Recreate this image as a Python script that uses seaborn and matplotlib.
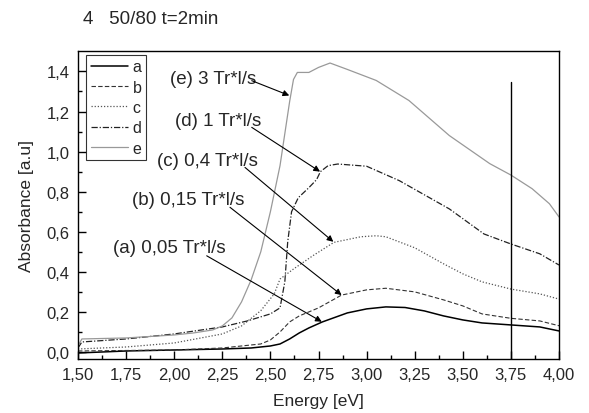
import numpy as np
import pandas as pd
import matplotlib
matplotlib.use("Agg")
import matplotlib.pyplot as plt
import seaborn as sns

# ---- data ----
a_x = [1.50, 1.75, 2.00, 2.25, 2.40, 2.50, 2.55, 2.60, 2.65, 2.70, 2.77, 2.90, 3.00, 3.10, 3.20, 3.30, 3.40, 3.50, 3.60, 3.75, 3.90, 4.00]
a_y = [-0.005, 0.005, 0.010, 0.015, 0.020, 0.030, 0.040, 0.065, 0.095, 0.120, 0.150, 0.195, 0.215, 0.225, 0.222, 0.205, 0.180, 0.160, 0.145, 0.135, 0.125, 0.105]

b_x = [1.50, 2.00, 2.25, 2.45, 2.50, 2.55, 2.60, 2.65, 2.75, 2.87, 3.00, 3.10, 3.25, 3.40, 3.50, 3.60, 3.75, 3.90, 4.00]
b_y = [0.005, 0.010, 0.020, 0.040, 0.060, 0.100, 0.150, 0.180, 0.220, 0.284, 0.310, 0.318, 0.300, 0.260, 0.230, 0.190, 0.168, 0.155, 0.131]

c_x = [1.50, 1.75, 2.00, 2.25, 2.35, 2.45, 2.52, 2.55, 2.62, 2.72, 2.83, 2.97, 3.05, 3.10, 3.25, 3.40, 3.50, 3.60, 3.75, 3.90, 4.00]
c_y = [0.015, 0.025, 0.045, 0.090, 0.130, 0.206, 0.290, 0.364, 0.414, 0.480, 0.547, 0.575, 0.580, 0.575, 0.520, 0.440, 0.390, 0.350, 0.314, 0.290, 0.264]

d_x = [1.50, 1.52, 1.75, 2.00, 2.25, 2.38, 2.50, 2.55, 2.575, 2.59, 2.61, 2.645, 2.70, 2.74, 2.76, 2.80, 2.85, 3.00, 3.17, 3.43, 3.61, 3.75, 3.90, 4.00]
d_y = [0.020, 0.050, 0.065, 0.090, 0.125, 0.155, 0.190, 0.220, 0.350, 0.550, 0.700, 0.770, 0.820, 0.860, 0.900, 0.930, 0.938, 0.927, 0.855, 0.714, 0.589, 0.539, 0.490, 0.434]

e_x = [1.50, 1.52, 1.75, 2.00, 2.10, 2.20, 2.25, 2.30, 2.35, 2.40, 2.45, 2.50, 2.55, 2.60, 2.62, 2.64, 2.70, 2.75, 2.81, 2.90, 3.05, 3.22, 3.43, 3.64, 3.75, 3.86, 3.95, 4.00]
e_y = [0.030, 0.065, 0.070, 0.085, 0.095, 0.110, 0.130, 0.170, 0.250, 0.360, 0.500, 0.700, 0.930, 1.250, 1.360, 1.395, 1.395, 1.420, 1.442, 1.410, 1.355, 1.255, 1.080, 0.940, 0.883, 0.815, 0.740, 0.674]

series_names = ["a", "b", "c", "d", "e"]
annot_texts = ["(a) 0,05 Tr*l/s", "(b) 0,15 Tr*l/s", "(c) 0,4 Tr*l/s", "(d) 1 Tr*l/s", "(e) 3 Tr*l/s"]
annot_text_xy = [(1.684, 0.522), (1.779, 0.763), (1.909, 0.955), (2.004, 1.154), (1.978, 1.366)]
annot_tail_xy = [(2.169, 0.480), (2.290, 0.722), (2.368, 0.921), (2.403, 1.121), (2.403, 1.354)]
annot_tip_xy = [(2.767, 0.151), (2.870, 0.284), (2.827, 0.550), (2.758, 0.900), (2.598, 1.280)]

x_ticks = [1.50, 1.75, 2.00, 2.25, 2.50, 2.75, 3.00, 3.25, 3.50, 3.75, 4.00]
x_ticklabels = ["1,50", "1,75", "2,00", "2,25", "2,50", "2,75", "3,00", "3,25", "3,50", "3,75", "4,00"]
y_ticks = [0.0, 0.2, 0.4, 0.6, 0.8, 1.0, 1.2, 1.4]
y_ticklabels = ["0,0", "0,2", "0,4", "0,6", "0,8", "1,0", "1,2", "1,4"]
vline_x = 3.75
vline_top = 1.347

title_text = "4   50/80 t=2min"
x_label = "Energy [eV]"
y_label = "Absorbance [a.u]"

# ---- styling ----
sns.set_theme(style="white")
plt.rcParams["font.family"] = ["Liberation Sans", "DejaVu Sans"]

fig = plt.figure(figsize=(5.89, 4.14), dpi=100)
ax = fig.add_axes([78 / 589, 1 - 360 / 414, (559 - 78) / 589, (360 - 52) / 414])

styles = {
    "a": dict(color="#000000", linestyle="-", linewidth=1.1),
    "b": dict(color="#333333", linestyle=(0, (4, 2)), linewidth=0.8),
    "c": dict(color="#555555", linestyle=(0, (1, 1.5)), linewidth=0.9),
    "d": dict(color="#222222", linestyle=(0, (5, 1.5, 1, 1.5)), linewidth=0.9),
    "e": dict(color="#999999", linestyle="-", linewidth=0.9),
}
data = {"a": (a_x, a_y), "b": (b_x, b_y), "c": (c_x, c_y), "d": (d_x, d_y), "e": (e_x, e_y)}

for name in series_names:
    xs, ys = data[name]
    df = pd.DataFrame({"x": xs, "y": ys})
    sns.lineplot(data=df, x="x", y="y", ax=ax, label=name, sort=False, **styles[name])

ax.plot([vline_x, vline_x], [-0.035, vline_top], color="black", linewidth=1.0)

for txt, txy, tail, tip in zip(annot_texts, annot_text_xy, annot_tail_xy, annot_tip_xy):
    ax.text(txy[0], txy[1], txt, fontsize=13.5, va="center", ha="left")
    ax.annotate("", xy=tip, xytext=tail,
                arrowprops=dict(arrowstyle="-|>", color="black", lw=0.8, mutation_scale=9,
                                shrinkA=0, shrinkB=0))

ax.set_xlim(1.5, 4.0)
ax.set_ylim(-0.035, 1.502)
ax.set_xticks(x_ticks)
ax.set_xticklabels(x_ticklabels)
ax.set_yticks(y_ticks)
ax.set_yticklabels(y_ticklabels)
ax.set_xticks(np.arange(1.625, 4.0, 0.25), minor=True)
ax.set_yticks(np.arange(0.1, 1.5, 0.2), minor=True)
ax.tick_params(axis="both", which="major", direction="in", length=6, width=1, color="black",
               labelsize=12, pad=6, bottom=True, left=True, top=False, right=False)
ax.tick_params(axis="both", which="minor", direction="in", length=3, width=1, color="black",
               bottom=True, left=True, top=False, right=False)
for sp in ax.spines.values():
    sp.set_color("black")
    sp.set_linewidth(1.0)

ax.set_xlabel(x_label, fontsize=12.5, labelpad=8)
ax.set_ylabel(y_label, fontsize=12.5, labelpad=9)

leg = ax.legend(loc="upper left", bbox_to_anchor=(0.017, 0.988), borderaxespad=0,
                frameon=True, fancybox=False, edgecolor="black", fontsize=11.5,
                handlelength=2.3, handletextpad=0.3, labelspacing=0.33,
                borderpad=0.3, handleheight=0.7)
leg.get_frame().set_linewidth(0.8)

fig.text(83 / 589, 1 - 20 / 414, title_text, fontsize=13.5, ha="left", va="center")

fig.savefig("out.png", dpi=100)
